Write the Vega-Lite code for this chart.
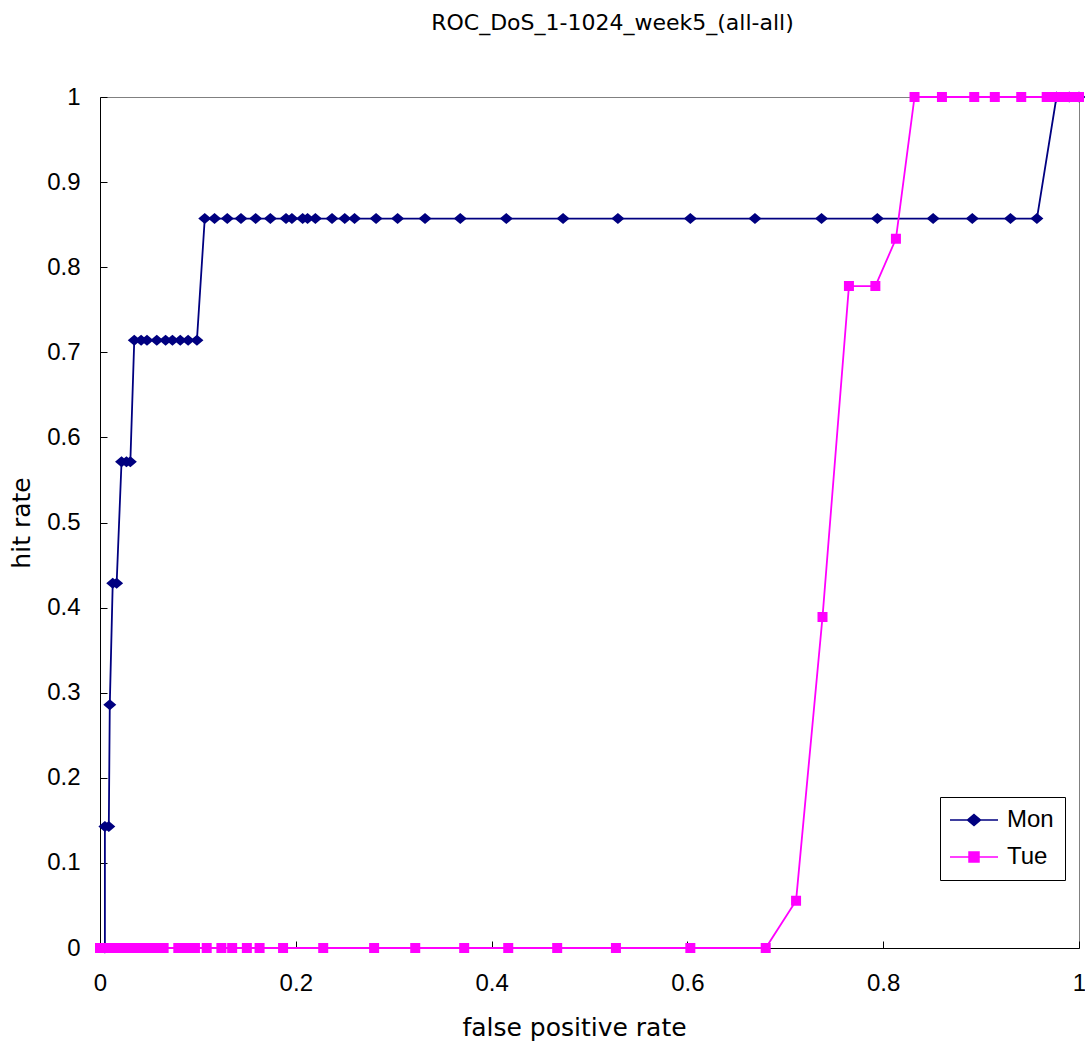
{
  "$schema": "https://vega.github.io/schema/vega-lite/v6.json",
  "autosize": {"type": "none"},
  "width": 979,
  "height": 851,
  "padding": {"left": 100, "top": 97, "right": 6, "bottom": 97},
  "background": "white",
  "title": {
    "text": "ROC_DoS_1-1024_week5_(all-all)",
    "font": "DejaVu Sans",
    "fontSize": 22,
    "fontWeight": "normal",
    "color": "black",
    "anchor": "middle",
    "dx": 23,
    "offset": 50
  },
  "config": {
    "view": {"stroke": "#808080", "strokeWidth": 1},
    "axis": {
      "grid": false,
      "domainColor": "black",
      "domainWidth": 1,
      "tickColor": "black",
      "tickSize": -7,
      "labelFlush": false,
      "labelFont": "Liberation Sans",
      "labelFontSize": 24,
      "labelColor": "black",
      "titleFont": "DejaVu Sans",
      "titleFontSize": 25,
      "titleFontWeight": "normal",
      "titleColor": "black"
    },
    "legend": {
      "labelFont": "Liberation Sans",
      "labelFontSize": 24,
      "labelColor": "black"
    }
  },
  "datasets": {
    "roc": [
      {"day": "Mon", "i": 1, "fpr": 0.005, "hit": 0},
      {"day": "Mon", "i": 2, "fpr": 0.005, "hit": 0.1429},
      {"day": "Mon", "i": 3, "fpr": 0.009, "hit": 0.1429},
      {"day": "Mon", "i": 4, "fpr": 0.010, "hit": 0.2857},
      {"day": "Mon", "i": 5, "fpr": 0.013, "hit": 0.4286},
      {"day": "Mon", "i": 6, "fpr": 0.017, "hit": 0.4286},
      {"day": "Mon", "i": 7, "fpr": 0.022, "hit": 0.5714},
      {"day": "Mon", "i": 8, "fpr": 0.027, "hit": 0.5714},
      {"day": "Mon", "i": 9, "fpr": 0.031, "hit": 0.5714},
      {"day": "Mon", "i": 10, "fpr": 0.035, "hit": 0.7143},
      {"day": "Mon", "i": 11, "fpr": 0.042, "hit": 0.7143},
      {"day": "Mon", "i": 12, "fpr": 0.048, "hit": 0.7143},
      {"day": "Mon", "i": 13, "fpr": 0.058, "hit": 0.7143},
      {"day": "Mon", "i": 14, "fpr": 0.067, "hit": 0.7143},
      {"day": "Mon", "i": 15, "fpr": 0.074, "hit": 0.7143},
      {"day": "Mon", "i": 16, "fpr": 0.082, "hit": 0.7143},
      {"day": "Mon", "i": 17, "fpr": 0.090, "hit": 0.7143},
      {"day": "Mon", "i": 18, "fpr": 0.099, "hit": 0.7143},
      {"day": "Mon", "i": 19, "fpr": 0.107, "hit": 0.8571},
      {"day": "Mon", "i": 20, "fpr": 0.117, "hit": 0.8571},
      {"day": "Mon", "i": 21, "fpr": 0.130, "hit": 0.8571},
      {"day": "Mon", "i": 22, "fpr": 0.144, "hit": 0.8571},
      {"day": "Mon", "i": 23, "fpr": 0.159, "hit": 0.8571},
      {"day": "Mon", "i": 24, "fpr": 0.174, "hit": 0.8571},
      {"day": "Mon", "i": 25, "fpr": 0.190, "hit": 0.8571},
      {"day": "Mon", "i": 26, "fpr": 0.196, "hit": 0.8571},
      {"day": "Mon", "i": 27, "fpr": 0.207, "hit": 0.8571},
      {"day": "Mon", "i": 28, "fpr": 0.212, "hit": 0.8571},
      {"day": "Mon", "i": 29, "fpr": 0.220, "hit": 0.8571},
      {"day": "Mon", "i": 30, "fpr": 0.237, "hit": 0.8571},
      {"day": "Mon", "i": 31, "fpr": 0.250, "hit": 0.8571},
      {"day": "Mon", "i": 32, "fpr": 0.260, "hit": 0.8571},
      {"day": "Mon", "i": 33, "fpr": 0.282, "hit": 0.8571},
      {"day": "Mon", "i": 34, "fpr": 0.304, "hit": 0.8571},
      {"day": "Mon", "i": 35, "fpr": 0.332, "hit": 0.8571},
      {"day": "Mon", "i": 36, "fpr": 0.368, "hit": 0.8571},
      {"day": "Mon", "i": 37, "fpr": 0.415, "hit": 0.8571},
      {"day": "Mon", "i": 38, "fpr": 0.473, "hit": 0.8571},
      {"day": "Mon", "i": 39, "fpr": 0.529, "hit": 0.8571},
      {"day": "Mon", "i": 40, "fpr": 0.603, "hit": 0.8571},
      {"day": "Mon", "i": 41, "fpr": 0.669, "hit": 0.8571},
      {"day": "Mon", "i": 42, "fpr": 0.737, "hit": 0.8571},
      {"day": "Mon", "i": 43, "fpr": 0.794, "hit": 0.8571},
      {"day": "Mon", "i": 44, "fpr": 0.851, "hit": 0.8571},
      {"day": "Mon", "i": 45, "fpr": 0.891, "hit": 0.8571},
      {"day": "Mon", "i": 46, "fpr": 0.930, "hit": 0.8571},
      {"day": "Mon", "i": 47, "fpr": 0.957, "hit": 0.8571},
      {"day": "Mon", "i": 48, "fpr": 0.977, "hit": 1},
      {"day": "Mon", "i": 49, "fpr": 0.990, "hit": 1},
      {"day": "Mon", "i": 50, "fpr": 1.0, "hit": 1},
      {"day": "Tue", "i": 1, "fpr": 0.000, "hit": 0},
      {"day": "Tue", "i": 2, "fpr": 0.004, "hit": 0},
      {"day": "Tue", "i": 3, "fpr": 0.008, "hit": 0},
      {"day": "Tue", "i": 4, "fpr": 0.012, "hit": 0},
      {"day": "Tue", "i": 5, "fpr": 0.016, "hit": 0},
      {"day": "Tue", "i": 6, "fpr": 0.020, "hit": 0},
      {"day": "Tue", "i": 7, "fpr": 0.024, "hit": 0},
      {"day": "Tue", "i": 8, "fpr": 0.028, "hit": 0},
      {"day": "Tue", "i": 9, "fpr": 0.032, "hit": 0},
      {"day": "Tue", "i": 10, "fpr": 0.036, "hit": 0},
      {"day": "Tue", "i": 11, "fpr": 0.040, "hit": 0},
      {"day": "Tue", "i": 12, "fpr": 0.044, "hit": 0},
      {"day": "Tue", "i": 13, "fpr": 0.048, "hit": 0},
      {"day": "Tue", "i": 14, "fpr": 0.052, "hit": 0},
      {"day": "Tue", "i": 15, "fpr": 0.057, "hit": 0},
      {"day": "Tue", "i": 16, "fpr": 0.065, "hit": 0},
      {"day": "Tue", "i": 17, "fpr": 0.080, "hit": 0},
      {"day": "Tue", "i": 18, "fpr": 0.088, "hit": 0},
      {"day": "Tue", "i": 19, "fpr": 0.097, "hit": 0},
      {"day": "Tue", "i": 20, "fpr": 0.109, "hit": 0},
      {"day": "Tue", "i": 21, "fpr": 0.124, "hit": 0},
      {"day": "Tue", "i": 22, "fpr": 0.135, "hit": 0},
      {"day": "Tue", "i": 23, "fpr": 0.150, "hit": 0},
      {"day": "Tue", "i": 24, "fpr": 0.163, "hit": 0},
      {"day": "Tue", "i": 25, "fpr": 0.187, "hit": 0},
      {"day": "Tue", "i": 26, "fpr": 0.228, "hit": 0},
      {"day": "Tue", "i": 27, "fpr": 0.280, "hit": 0},
      {"day": "Tue", "i": 28, "fpr": 0.322, "hit": 0},
      {"day": "Tue", "i": 29, "fpr": 0.372, "hit": 0},
      {"day": "Tue", "i": 30, "fpr": 0.417, "hit": 0},
      {"day": "Tue", "i": 31, "fpr": 0.467, "hit": 0},
      {"day": "Tue", "i": 32, "fpr": 0.527, "hit": 0},
      {"day": "Tue", "i": 33, "fpr": 0.603, "hit": 0},
      {"day": "Tue", "i": 34, "fpr": 0.680, "hit": 0},
      {"day": "Tue", "i": 35, "fpr": 0.711, "hit": 0.0556},
      {"day": "Tue", "i": 36, "fpr": 0.738, "hit": 0.3889},
      {"day": "Tue", "i": 37, "fpr": 0.765, "hit": 0.7778},
      {"day": "Tue", "i": 38, "fpr": 0.792, "hit": 0.7778},
      {"day": "Tue", "i": 39, "fpr": 0.813, "hit": 0.8333},
      {"day": "Tue", "i": 40, "fpr": 0.832, "hit": 1},
      {"day": "Tue", "i": 41, "fpr": 0.860, "hit": 1},
      {"day": "Tue", "i": 42, "fpr": 0.893, "hit": 1},
      {"day": "Tue", "i": 43, "fpr": 0.914, "hit": 1},
      {"day": "Tue", "i": 44, "fpr": 0.941, "hit": 1},
      {"day": "Tue", "i": 45, "fpr": 0.967, "hit": 1},
      {"day": "Tue", "i": 46, "fpr": 0.974, "hit": 1},
      {"day": "Tue", "i": 47, "fpr": 0.981, "hit": 1},
      {"day": "Tue", "i": 48, "fpr": 0.988, "hit": 1},
      {"day": "Tue", "i": 49, "fpr": 0.994, "hit": 1},
      {"day": "Tue", "i": 50, "fpr": 1.0, "hit": 1}
    ]
  },
  "data": {"name": "roc"},
  "encoding": {
    "x": {
      "field": "fpr",
      "type": "quantitative",
      "scale": {"domain": [0, 1], "nice": false},
      "axis": {
        "title": "false positive rate",
        "values": [0, 0.2, 0.4, 0.6, 0.8, 1],
        "format": "~g",
        "labelPadding": 30,
        "titlePadding": 20,
        "titleX": 474
      }
    },
    "y": {
      "field": "hit",
      "type": "quantitative",
      "scale": {"domain": [0, 1], "nice": false},
      "axis": {
        "title": "hit rate",
        "values": [0, 0.1, 0.2, 0.3, 0.4, 0.5, 0.6, 0.7, 0.8, 0.9, 1],
        "format": "~g",
        "labelPadding": 27,
        "titlePadding": 12
      }
    },
    "color": {
      "field": "day",
      "type": "nominal",
      "scale": {"domain": ["Mon", "Tue"], "range": ["#000080", "#FF00FF"]},
      "legend": {
        "title": null,
        "orient": "none",
        "legendX": 840,
        "legendY": 700,
        "padding": 11,
        "strokeColor": "black",
        "fillColor": "white",
        "symbolSize": 400,
        "symbolStrokeWidth": 1.5,
        "symbolOffset": 11,
        "labelOffset": 21,
        "rowPadding": 13
      }
    }
  },
  "layer": [
    {
      "mark": {"type": "line", "strokeWidth": 1.8},
      "encoding": {"order": {"field": "i", "type": "quantitative"}}
    },
    {
      "mark": {"type": "point", "filled": true, "opacity": 1, "size": 400},
      "encoding": {
        "shape": {
          "field": "day",
          "type": "nominal",
          "scale": {
            "domain": ["Mon", "Tue"],
            "range": [
              "M-2.4,0L2.4,0M0,-0.55L0.65,0L0,0.55L-0.65,0Z",
              "M-2.4,0L2.4,0M-0.5,-0.5L0.5,-0.5L0.5,0.5L-0.5,0.5Z"
            ]
          },
          "legend": null
        }
      }
    }
  ]
}
